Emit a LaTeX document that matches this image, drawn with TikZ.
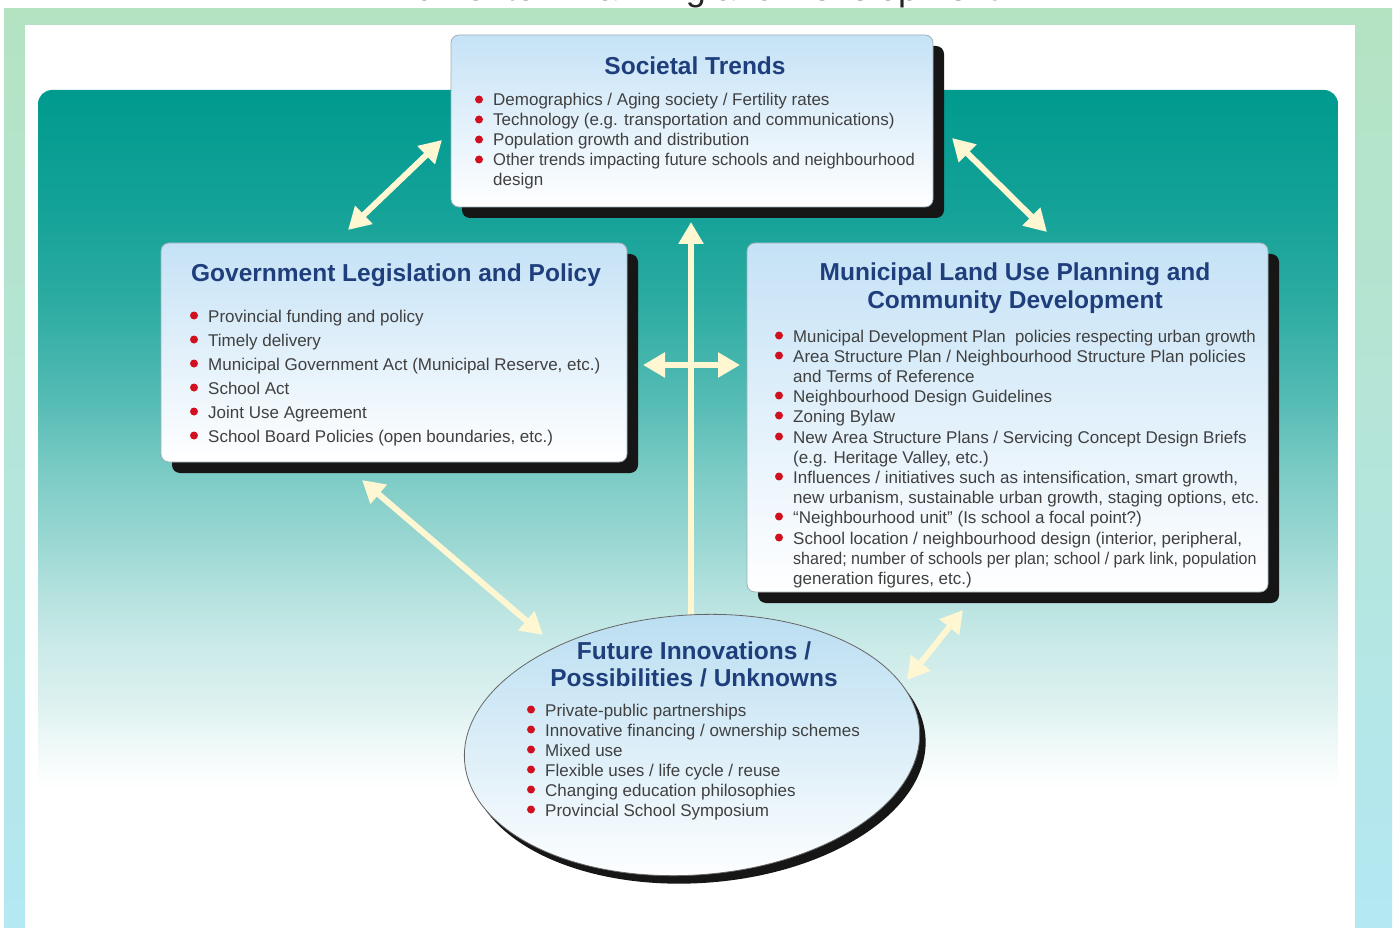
\documentclass[tikz,border=0pt]{standalone}
\usepackage{fontspec}
\usepackage{graphicx}
\setmainfont{Liberation Sans}
\usetikzlibrary{arrows.meta,shadows,shapes.geometric}

\definecolor{frameG}{HTML}{B4E3C2}
\definecolor{frameB}{HTML}{B4E8F3}
\definecolor{tealtop}{HTML}{009A8F}
\definecolor{boxtop}{HTML}{C5E2F6}
\definecolor{elltop}{HTML}{B8DDF1}
\definecolor{boxline}{HTML}{A0AEB8}
\definecolor{shadowc}{HTML}{161616}
\definecolor{titleblue}{HTML}{1F3E7C}
\definecolor{bodygray}{HTML}{404040}
\definecolor{bred}{HTML}{D0101E}
\definecolor{cream}{HTML}{FFF7D2}

\pgfdeclareverticalshading{tealfade}{100bp}{%
  color(0bp)=(white);
  color(25bp)=(white);
  color(27.1bp)=(white!96!tealtop);
  color(28.6bp)=(white!93!tealtop);
  color(31.4bp)=(white!86!tealtop);
  color(35bp)=(white!80!tealtop);
  color(38.6bp)=(white!72!tealtop);
  color(42.9bp)=(white!60!tealtop);
  color(47.9bp)=(white!48!tealtop);
  color(52.9bp)=(white!33!tealtop);
  color(60bp)=(white!17!tealtop);
  color(66.4bp)=(white!8!tealtop);
  color(75bp)=(tealtop);
  color(100bp)=(tealtop)}

\begin{document}
\begin{tikzpicture}[x=1pt,y=-1pt,
  box/.style={draw=boxline, line width=0.8pt, rounded corners=8pt,
    top color=boxtop, bottom color=white, inner sep=0pt,
    drop shadow={shadow xshift=11pt, shadow yshift=-11pt, fill=shadowc, opacity=1}},
  ellbox/.style={ellipse, draw=gray!80!black, line width=0.8pt,
    top color=elltop, bottom color=white, inner sep=0pt,
    drop shadow={shadow xshift=6pt, shadow yshift=-8pt, fill=shadowc, opacity=1}},
  ttl/.style={font=\fontsize{24.5}{28}\selectfont\bfseries, text=titleblue, inner sep=0pt, anchor=base},
  bt/.style={font=\fontsize{17}{20}\selectfont, text=bodygray, inner sep=0pt, anchor=base west},
  dbl/.style={draw=cream, line width=6pt,
    {Triangle[width=24pt,length=22pt]}-{Triangle[width=24pt,length=22pt]}},
  sgl/.style={draw=cream, line width=6pt, -{Triangle[width=24pt,length=22pt]}},
  hdr/.style={font=\fontsize{36}{40}\selectfont, text=black!85, inner sep=0pt, anchor=base}
]
\newcommand\bdot[1]{\fill[bred] ([xshift=-14pt,yshift=6.5pt]#1.base west) circle[radius=4pt];}
\useasboundingbox (0,0) rectangle (1395,928);

% frame
\fill[white] (0,0) rectangle (1395,928);
\shade[top color=frameG, bottom color=frameB] (4,9) rectangle (1392,928);
\fill[white] (25,25) rectangle (1355,928);
\node[hdr] (header) at (695,1) {Edmonton Planning and Development};

% teal field
\shade[shading=tealfade, rounded corners=14pt] (38,90) rectangle (1338,790);

% connector end points
\coordinate (gsA) at (348,230);  \coordinate (gsB) at (442,140);
\coordinate (smA) at (952,138);  \coordinate (smB) at (1047,232);
\coordinate (vA)  at (691,618);  \coordinate (vB)  at (691,222);
\coordinate (hA)  at (643,365);  \coordinate (hB)  at (740,365);
\coordinate (gfA) at (362,480);  \coordinate (gfB) at (543,635);
\coordinate (mfA) at (907,680);  \coordinate (mfB) at (963,610);

\draw[dbl] (gsA) -- (gsB);
\draw[dbl] (smA) -- (smB);
\draw[sgl] (vA) -- (vB);
\draw[dbl] (hA) -- (hB);
\draw[dbl] (gfA) -- (gfB);
\draw[dbl] (mfA) -- (mfB);

% boxes
\node[box, minimum width=482pt, minimum height=172pt] (soc) at (692,121) {};
\node[box, minimum width=466pt, minimum height=219pt] (gov) at (394,352.5) {};
\node[box, minimum width=521pt, minimum height=349pt] (mun) at (1007.5,417.5) {};
\node[ellbox, minimum width=456pt, minimum height=260pt, rotate=4] (fut) at (692,745) {};

% Societal Trends
\node[ttl] (socT) at (695,75) {Societal Trends};
\node[bt] (s1) at (493,106) {Demographics / Aging society / Fertility rates};
\node[bt] (s2) at (493,126) {Technology (e.g. transportation and communications)};
\node[bt] (s3) at (493,146) {Population growth and distribution};
\node[bt] (s4) at (493,166) {\scalebox{0.972}[1]{Other trends impacting future schools and neighbourhood}};
\node[bt] (s5) at (493,186) {design};
\bdot{s1}\bdot{s2}\bdot{s3}\bdot{s4}

% Government
\node[ttl] (govT) at (396,281) {Government Legislation and Policy};
\node[bt] (g1) at (208,322) {Provincial funding and policy};
\node[bt] (g2) at (208,346) {Timely delivery};
\node[bt] (g3) at (208,370) {Municipal Government Act (Municipal Reserve, etc.)};
\node[bt] (g4) at (208,394) {School Act};
\node[bt] (g5) at (208,418) {Joint Use Agreement};
\node[bt] (g6) at (208,442) {School Board Policies (open boundaries, etc.)};
\bdot{g1}\bdot{g2}\bdot{g3}\bdot{g4}\bdot{g5}\bdot{g6}

% Municipal
\node[ttl] (munT1) at (1015,280) {Municipal Land Use Planning and};
\node[ttl] (munT2) at (1015,308) {Community Development};
\node[bt] (m1)  at (793,342) {\scalebox{0.987}[1]{Municipal Development Plan~ policies respecting urban growth}};
\node[bt] (m2)  at (793,362) {Area Structure Plan / Neighbourhood Structure Plan policies};
\node[bt] (m3)  at (793,382) {and Terms of Reference};
\node[bt] (m4)  at (793,402) {Neighbourhood Design Guidelines};
\node[bt] (m5)  at (793,422) {Zoning Bylaw};
\node[bt] (m6)  at (793,443) {New Area Structure Plans / Servicing Concept Design Briefs};
\node[bt] (m7)  at (793,463) {(e.g. Heritage Valley, etc.)};
\node[bt] (m8)  at (793,483) {Influences / initiatives such as intensification, smart growth,};
\node[bt] (m9)  at (793,503) {new urbanism, sustainable urban growth, staging options, etc.};
\node[bt] (m10) at (793,523) {“Neighbourhood unit” (Is school a focal point?)};
\node[bt] (m11) at (793,544) {School location / neighbourhood design (interior, peripheral,};
\node[bt] (m12) at (793,564) {\scalebox{0.945}[1]{shared; number of schools per plan; school / park link, population}};
\node[bt] (m13) at (793,584) {generation figures, etc.)};
\bdot{m1}\bdot{m2}\bdot{m4}\bdot{m5}\bdot{m6}\bdot{m8}\bdot{m10}\bdot{m11}

% Future
\node[ttl] (futT1) at (694,659) {Future Innovations /};
\node[ttl] (futT2) at (694,686) {Possibilities / Unknowns};
\node[bt] (f1) at (545,716) {Private-public partnerships};
\node[bt] (f2) at (545,736) {Innovative financing / ownership schemes};
\node[bt] (f3) at (545,756) {Mixed use};
\node[bt] (f4) at (545,776) {Flexible uses / life cycle / reuse};
\node[bt] (f5) at (545,796) {Changing education philosophies};
\node[bt] (f6) at (545,816) {Provincial School Symposium};
\bdot{f1}\bdot{f2}\bdot{f3}\bdot{f4}\bdot{f5}\bdot{f6}
\end{tikzpicture}
\end{document}
